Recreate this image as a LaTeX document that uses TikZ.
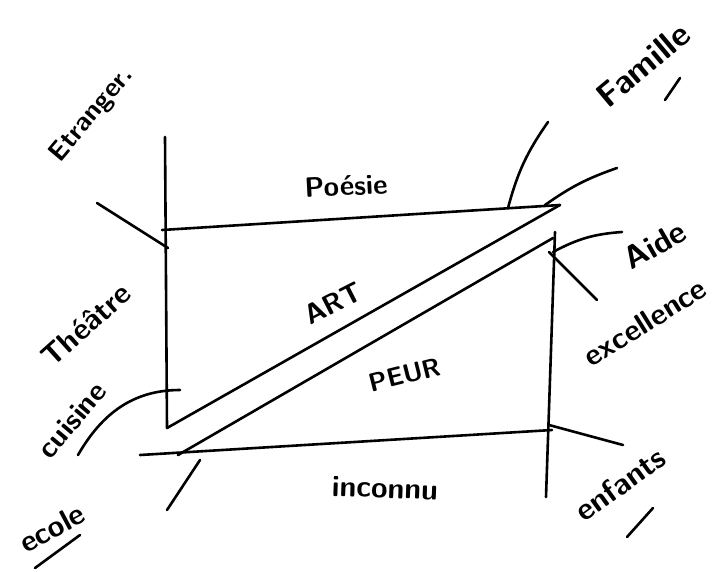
\documentclass[tikz,border=0pt]{standalone}
\usepackage{tikz}
\usetikzlibrary{positioning,calc}
\newcommand{\wsize}[1]{\fontsize{#1}{#1}\selectfont}
\begin{document}
\begin{tikzpicture}[x=1pt,y=-1pt,
  stroke/.style={line width=2.6pt,line cap=round,line join=round},
  word/.style={font=\sffamily\bfseries,inner sep=0pt}]
\useasboundingbox (0,0) rectangle (722,571);
% frame points
\coordinate (ltop) at (165,137);
\coordinate (lbot) at (167,428);
\coordinate (ttl) at (162,230);
\coordinate (ttr) at (560,205);
\coordinate (rtop) at (555,232);
\coordinate (rbot) at (546,497);
\coordinate (bbl) at (140,455);
\coordinate (bbr) at (552,430);
\coordinate (peurl) at (178,455);
\coordinate (peurr) at (553,238);
% free ends of the ticks
\coordinate (tlend) at (97,203);
\coordinate (tlfoot) at (168,248);
\coordinate (famfoot) at (508,208);
\coordinate (famend) at (548,122);
\coordinate (artfoot) at (545,205);
\coordinate (artend) at (617,168);
\coordinate (aidefoot) at (553,252);
\coordinate (aideend) at (622,232);
\coordinate (excfoot) at (549,252);
\coordinate (excend) at (597,300);
\coordinate (enffoot) at (549,425);
\coordinate (enfend) at (623,445);
\coordinate (ecofoot) at (200,460);
\coordinate (ecoend) at (167,510);
\coordinate (cuifoot) at (180,390);
\coordinate (cuiend) at (78,455);

% words
\node[word,rotate=50] (etranger) at (92,115) {\wsize{27}Etranger.};
\node[word,rotate=40] (famille) at (643,65) {\wsize{34}Famille};
\node[word,rotate=3] (poesie) at (346,186) {\wsize{28}Poésie};
\node[word,rotate=27] (art) at (333,303) {\wsize{28}ART};
\node[word,rotate=14] (peur) at (405,375) {\wsize{26}PEUR};
\node[word,rotate=30] (aide) at (655,245) {\wsize{32}Aide};
\node[word,rotate=32] (excellence) at (645,322) {\wsize{30}excellence};
\node[word,rotate=42] (theatre) at (86,325) {\wsize{30}Théâtre};
\node[word,rotate=50] (cuisine) at (72,420) {\wsize{29}cuisine};
\node[word,rotate=28] (ecole) at (52,528) {\wsize{30}ecole};
\node[word,rotate=36] (enfants) at (620,484) {\wsize{31}enfants};
\node[word,rotate=-2] (inconnu) at (385,488) {\wsize{30}inconnu};

% frame
\path[stroke]
(ltop) edge (lbot)
(ttl) edge (ttr)
(rtop) edge (rbot)
(bbl) edge (bbr)
(lbot) edge (ttr)
(peurl) edge (peurr)
;
% ticks
\path[stroke]
(tlend) edge (tlfoot)
(excfoot) edge (excend)
(enffoot) edge (enfend)
(ecofoot) edge (ecoend)
(famfoot) edge[bend left=10] (famend)
(artfoot) edge[bend left=8] (artend)
(aidefoot) edge[bend left=12] (aideend)
(cuifoot) edge[out=180,in=60] (cuiend)
;
% underlines
\coordinate (famu1) at (665,100);
\coordinate (famu2) at (680,78);
\coordinate (ecou1) at (35,568);
\coordinate (ecou2) at (80,535);
\coordinate (enfu1) at (627,537);
\coordinate (enfu2) at (653,508);
\path[stroke]
(famu1) edge (famu2)
(ecou1) edge (ecou2)
(enfu1) edge (enfu2)
;
\end{tikzpicture}
\end{document}
